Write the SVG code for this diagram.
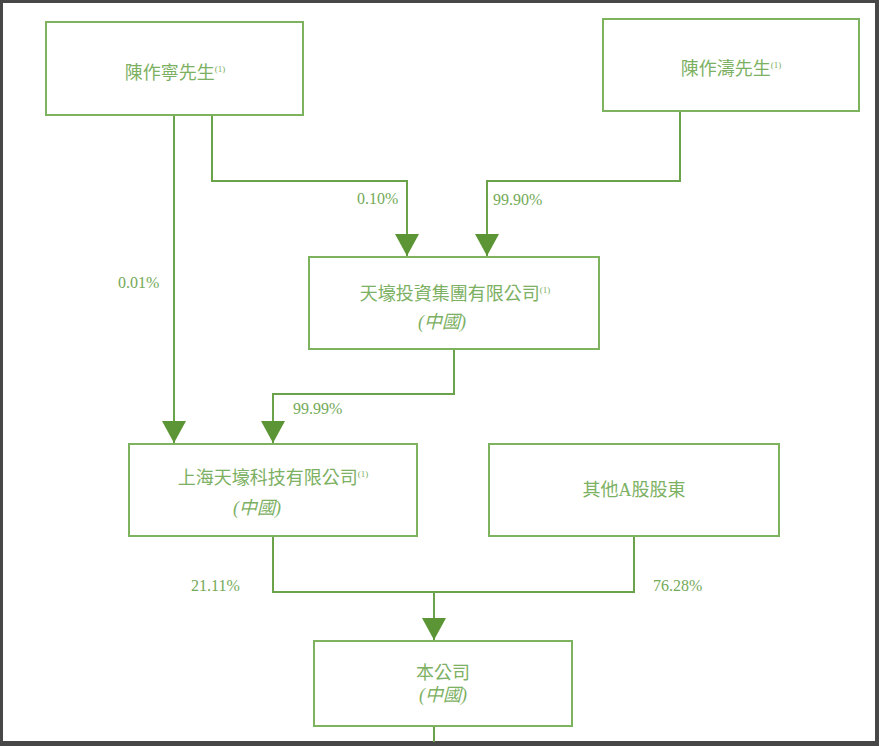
<svg xmlns="http://www.w3.org/2000/svg" width="879" height="746" viewBox="0 0 879 746">
<defs>
<style>
.box{fill:#ffffff;stroke:#7db25e;stroke-width:2}
.ln{fill:none;stroke:#6aa34a;stroke-width:2}
.t{font-family:"Liberation Serif","Noto Sans CJK TC",serif;font-size:18px;fill:#7cb062;text-anchor:middle}
.it{font-style:italic}
.sup{font-size:9px}
.pct{font-family:"Liberation Serif",serif;font-size:16px;fill:#74aa58}
</style>
<marker id="arr" markerUnits="userSpaceOnUse" markerWidth="22" markerHeight="24" refX="22" refY="12" orient="auto">
<path d="M0,0 L22,12 L0,24 Z" fill="#5b9535"/>
</marker>
</defs>
<rect x="0" y="0" width="879" height="746" fill="#474747"/>
<rect x="3" y="3" width="872" height="738" fill="#ffffff"/>

<g id="connectors">
<path class="ln" d="M174,115 V443" marker-end="url(#arr)"/>
<path class="ln" d="M212,115 V181 H407 V256" marker-end="url(#arr)"/>
<path class="ln" d="M680,111 V181 H487 V256" marker-end="url(#arr)"/>
<path class="ln" d="M454,349 V394 H273 V443" marker-end="url(#arr)"/>
<path class="ln" d="M273,536 V592 H634 V536"/>
<path class="ln" d="M434,592 V640" marker-end="url(#arr)"/>
<path class="ln" d="M434,726 V742"/>
<text class="pct" x="357" y="204">0.10%</text>
<text class="pct" x="493" y="205">99.90%</text>
<text class="pct" x="118" y="288">0.01%</text>
<text class="pct" x="293" y="414">99.99%</text>
<text class="pct" x="191" y="591">21.11%</text>
<text class="pct" x="653" y="591">76.28%</text>
</g>

<g id="n1">
<rect class="box" x="46" y="22" width="257" height="93"/>
<text class="t" x="175" y="79">陳作寧先生<tspan class="sup" dy="-7">(1)</tspan></text>
</g>
<g id="n2">
<rect class="box" x="603" y="19" width="256" height="92"/>
<text class="t" x="731" y="75">陳作濤先生<tspan class="sup" dy="-7">(1)</tspan></text>
</g>
<g id="n3">
<rect class="box" x="309" y="257" width="290" height="92"/>
<text class="t" x="455" y="300">天壕投資集團有限公司<tspan class="sup" dy="-7">(1)</tspan></text>
<text class="t it" x="442" y="328">(中國)</text>
</g>
<g id="n4">
<rect class="box" x="129" y="444" width="288" height="92"/>
<text class="t" x="273" y="484">上海天壕科技有限公司<tspan class="sup" dy="-7">(1)</tspan></text>
<text class="t it" x="257" y="514">(中國)</text>
</g>
<g id="n5">
<rect class="box" x="489" y="444" width="290" height="92"/>
<text class="t" x="634" y="496">其他A股股東</text>
</g>
<g id="n6">
<rect class="box" x="314" y="641" width="258" height="85"/>
<text class="t" x="443" y="679">本公司</text>
<text class="t it" x="443" y="701">(中國)</text>
</g>
</svg>
